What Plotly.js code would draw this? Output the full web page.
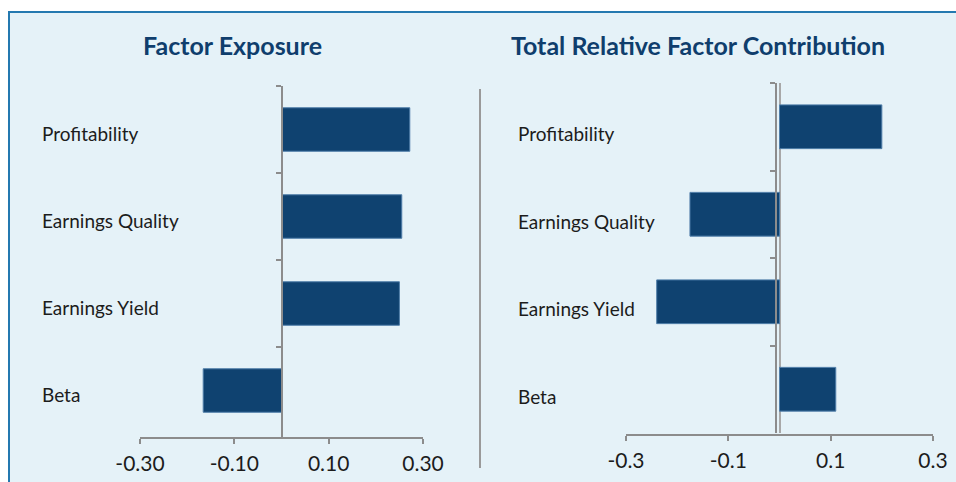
<!DOCTYPE html>
<html>
<head>
<meta charset="utf-8">
<script src="https://cdn.plot.ly/plotly-3.0.1.min.js"></script>
<style>html,body{margin:0;padding:0;background:#fff;}#chart{width:956px;height:482px;}</style>
</head>
<body>
<div id="chart"></div>
<script>
const categories = ['Profitability', 'Earnings Quality', 'Earnings Yield', 'Beta'];
const exposure = [0.272, 0.255, 0.25, -0.166];
const contribution = [0.20, -0.175, -0.24, 0.11];
const leftTickVals = [-0.3, -0.1, 0.1, 0.3];
const leftTickText = ['-0.30', '-0.10', '0.10', '0.30'];
const rightTickVals = [-0.3, -0.1, 0.1, 0.3];
const rightTickText = ['-0.3', '-0.1', '0.1', '0.3'];
const titles = ['Factor Exposure', 'Total Relative Factor Contribution'];

const W = 956, H = 482;
const px = v => v / W;
const py = v => 1 - v / H;

const barColor = '#0f4270';
const barLine = '#4f7ea9';
const axisColor = '#8c8c8c';
const textColor = '#1c1c1c';
const titleColor = '#0f3e6d';
const fam = 'Lato, "Noto Sans", sans-serif';
const labelFont = {family: fam, size: 19, color: textColor};

const traces = [
  {type: 'bar', orientation: 'h', y: categories, x: exposure, xaxis: 'x', yaxis: 'y',
   marker: {color: barColor, line: {color: barLine, width: 1}}, hoverinfo: 'x+y'},
  {type: 'bar', orientation: 'h', y: categories, x: contribution, xaxis: 'x2', yaxis: 'y2',
   marker: {color: barColor, line: {color: barLine, width: 1}}, hoverinfo: 'x+y'}
];

const xBase = {
  range: [-0.3, 0.3], showgrid: false, zeroline: false,
  showline: true, linecolor: axisColor, linewidth: 2,
  ticks: 'outside', ticklen: 5, tickwidth: 2, tickcolor: axisColor,
  tickfont: {family: fam, size: 21, color: textColor},
  ticklabelstandoff: 2, fixedrange: true, anchor: 'free'
};
const yBase = {
  type: 'category', categoryorder: 'array', categoryarray: categories,
  range: [3.5, -0.5], showgrid: false, zeroline: false,
  showline: true, linecolor: axisColor, linewidth: 2,
  ticks: 'outside', ticklen: 5, tickwidth: 2, tickcolor: axisColor,
  tickson: 'boundaries', showticklabels: false, anchor: 'free', fixedrange: true
};

const annotations = [];
titles.forEach((t, i) => {
  annotations.push({xref: 'paper', yref: 'paper', x: px(i === 0 ? 232 : 698), y: py(45),
    xanchor: 'center', yanchor: 'middle', showarrow: false, text: '<b>' + t + '</b>',
    font: {family: fam, size: 25, color: titleColor, weight: 900}});
});
categories.forEach(c => {
  annotations.push({xref: 'paper', yref: 'y', x: px(40), y: c, xanchor: 'left', yanchor: 'middle',
    yshift: -4, showarrow: false, text: c, font: labelFont});
  annotations.push({xref: 'paper', yref: 'y2', x: px(516), y: c, xanchor: 'left', yanchor: 'middle',
    yshift: -7, showarrow: false, text: c, font: labelFont});
});

const layout = {
  width: W, height: H,
  margin: {l: 0, r: 0, t: 0, b: 0, pad: 0},
  paper_bgcolor: '#ffffff', plot_bgcolor: 'rgba(0,0,0,0)',
  showlegend: false, bargap: 0.5,
  xaxis: Object.assign({}, xBase, {domain: [px(140), px(423)], position: py(438),
    tickvals: leftTickVals, ticktext: leftTickText}),
  yaxis: Object.assign({}, yBase, {domain: [py(434), py(86)], position: px(282)}),
  xaxis2: Object.assign({}, xBase, {domain: [px(626), px(933)], position: py(435),
    tickvals: rightTickVals, ticktext: rightTickText,
    zeroline: true, zerolinecolor: '#a8a8a8', zerolinewidth: 2}),
  yaxis2: Object.assign({}, yBase, {domain: [py(433), py(83)], position: px(776)}),
  shapes: [
    {type: 'rect', xref: 'paper', yref: 'paper', x0: px(9), x1: 1.2, y0: -0.2, y1: py(12),
     fillcolor: '#e5f2f8', line: {color: '#2479b0', width: 2}, layer: 'below'},
    {type: 'line', xref: 'paper', yref: 'paper', x0: px(480), x1: px(480), y0: py(89), y1: py(468),
     line: {color: '#9a9a9a', width: 2}},
    {type: 'line', xref: 'paper', yref: 'paper', x0: px(282), x1: px(282), y0: py(433), y1: py(438),
     line: {color: axisColor, width: 2}}
  ],
  annotations: annotations
};

Plotly.newPlot('chart', traces, layout, {displayModeBar: false, staticPlot: true});
</script>
</body>
</html>
